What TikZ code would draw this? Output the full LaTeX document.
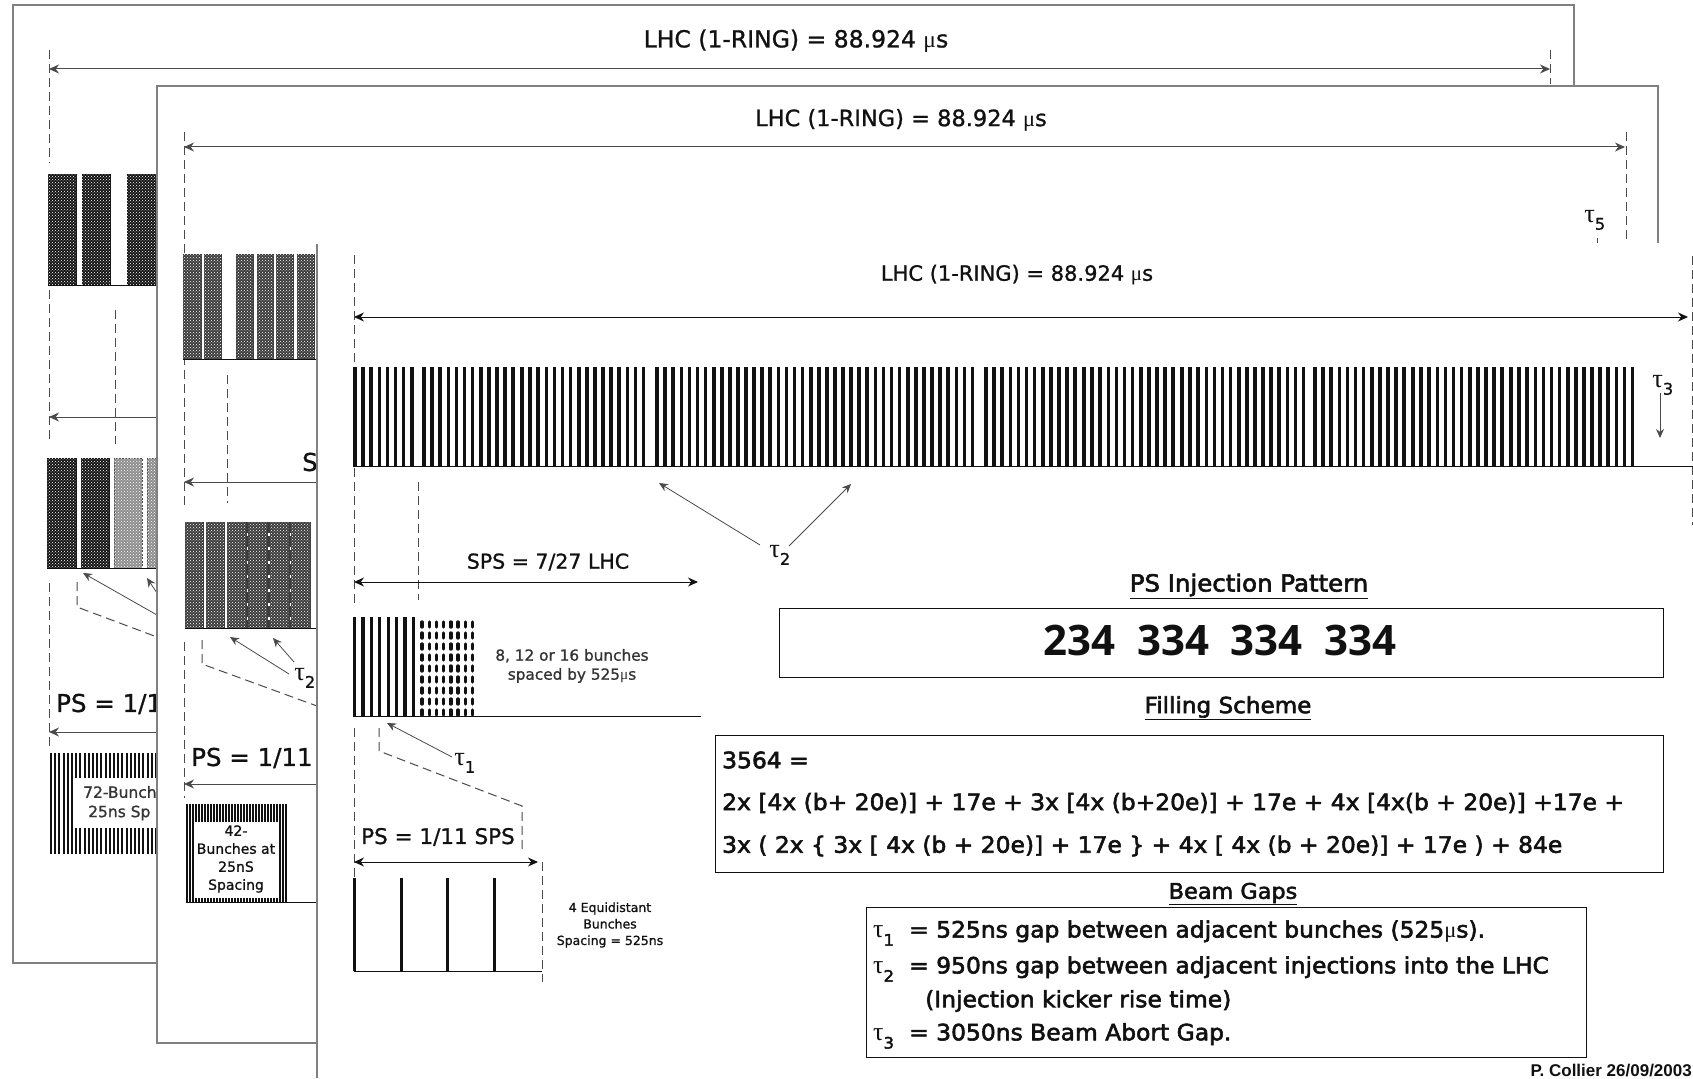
\documentclass[tikz,border=0pt]{standalone}
\usepackage{fontspec}
\usepackage{xcolor}
\usetikzlibrary{arrows.meta,patterns}
\setmainfont[FakeBold=1]{DejaVu Sans}
\newfontfamily\heavyfont[FakeBold=2.5,FakeStretch=1.04]{DejaVu Sans}
\newfontfamily\digitfont[WordSpace=2]{Open Sans}
\newfontfamily\greekfont{Liberation Serif}
\newfontfamily\stampfont{Liberation Sans}
\definecolor{ink}{HTML}{111111}
\definecolor{inkgray}{HTML}{4A4A4A}
\definecolor{framegray}{HTML}{808080}
\definecolor{bardark}{HTML}{151515}
\definecolor{barmid}{HTML}{3C3C3C}
\definecolor{barlight}{HTML}{8E8E8E}
\newcommand{\taugap}[1]{{\greekfont\fontsize{1.15em}{1em}\selectfont τ}\raisebox{-0.3ex}{\textsubscript{#1}}}
\newcommand{\gapline}[1]{\makebox[36pt][l]{\taugap{#1}}}
\newcommand{\micro}{{\greekfont μ}}
\tikzset{
  panel/.style={draw=framegray,fill=white,line width=1.6pt},
  hbar/.style={draw=ink,line width=1pt},
  dashline/.style={draw=inkgray,line width=1pt,dash pattern=on 9pt off 5pt},
  dimarr/.style={{Stealth[length=10pt,width=9pt]}-{Stealth[length=10pt,width=9pt]},
                 line width=1pt,draw=inkgray},
  leftarr/.style={{Stealth[length=10pt,width=9pt]}-,line width=1pt,draw=inkgray},
  tauarr/.style={-{Stealth[length=9pt,width=8pt]},line width=0.8pt,draw=inkgray},
  dotbar/.style={draw=#1,fill=#1,line width=0.7pt,
                 postaction={pattern=crosshatch dots,pattern color=white}},
  gapdash/.style={draw=barmid,line width=2.4pt,dash pattern=on 11pt off 3pt},
  bunch/.style={draw=ink,line width=3.6pt},
  ringlabel/.style={font=\fontsize{23.5}{28}\selectfont,color=ink},
  dimlabel/.style={font=\fontsize{24.5}{28}\selectfont,color=ink},
  tinylabel/.style={font=\fontsize{15.3}{19}\selectfont,color=inkgray!70!black,align=center},
  taulabel/.style={font=\fontsize{23}{26}\selectfont,color=ink},
  headlabel/.style={font=\heavyfont\fontsize{22}{26}\selectfont,color=ink},
  formula/.style={font=\heavyfont\fontsize{22.5}{26}\selectfont,color=ink,anchor=west}
}
\begin{document}
\begin{tikzpicture}[x=1pt,y=-1pt]
    \path[use as bounding box,fill=white] (0,0) rectangle (1693,1078);

    \draw[panel] (13,5) rectangle (1574,963);
    \node[ringlabel] (ringa) at (796,41) {LHC (1-RING) = 88.924 \micro s};
    \coordinate (ringaL) at (49,69);
    \coordinate (ringaR) at (1550,69);
    \draw[dimarr] (ringaL) -- (ringaR);
    \draw[dashline] (49,50) -- (49,163);
    \draw[dashline] (1550,50) -- (1550,84);
    \foreach \xa/\xb in {48/76,82/110,127/157}
      \path[dotbar=bardark] (\xa,174) rectangle (\xb,285);
    \draw[hbar] (48,285) -- (157,285);
    \draw[dashline] (49,290) -- (49,442);
    \draw[dashline] (115,310) -- (115,444);
    \coordinate (spsaL) at (49,417);
    \coordinate (spsaR) at (157,417);
    \draw[leftarr] (spsaL) -- (spsaR);
    \foreach \xa/\xb in {47/76,81/109}
      \path[dotbar=bardark] (\xa,458) rectangle (\xb,568);
    \foreach \xa/\xb in {114/142,147/157}
      \path[dotbar=barlight,draw=inkgray,dash pattern=on 2pt off 1.5pt] (\xa,458) rectangle (\xb,568);
    \draw[hbar] (47,568) -- (157,568);
    \draw[dashline] (77,582) -- (77,607) -- (157,637);
    \coordinate (tauaA) at (83,573);
    \coordinate (tauaB) at (147,578);
    \coordinate (tauaC) at (157,615);
    \coordinate (tauaD) at (157,593);
    \draw[tauarr] (tauaC) -- (tauaA);
    \draw[tauarr] (tauaD) -- (tauaB);
    \draw[dashline] (49,583) -- (49,747);
    \node[dimlabel,anchor=west,inner sep=0pt] (psa) at (56,704) {PS = 1/1};
    \coordinate (psaL) at (49,732);
    \coordinate (psaR) at (157,732);
    \draw[leftarr] (psaL) -- (psaR);
    \foreach \xs in {51,55.2,...,157}
      \draw[ink,line width=2.1pt] (\xs,753) -- (\xs,854);
    \fill[white] (73,778) rectangle (157,828);
    \node[tinylabel,anchor=west,inner sep=0pt,font=\fontsize{15.5}{19}\selectfont] (blocka) at (83,792) {72-Bunch};
    \node[tinylabel,anchor=west,inner sep=0pt,font=\fontsize{15.5}{19}\selectfont] (blockb) at (88,813) {25ns Sp};

    \draw[panel] (157,86) rectangle (1658,1043);
    \node[ringlabel,font=\fontsize{22.5}{28}\selectfont] (ringb) at (901,120) {LHC (1-RING) = 88.924 \micro s};
    \coordinate (ringbL) at (184,147);
    \coordinate (ringbR) at (1625,147);
    \draw[dimarr] (ringbL) -- (ringbR);
    \draw[dashline] (184,132) -- (184,505);
    \draw[dashline] (1626,132) -- (1626,243);
    \node[taulabel] (taufive) at (1595,220) {\taugap{5}};
    \draw[dashline] (1597,238) -- (1597,243);
    \foreach \xa/\xb in {183/201,204/221,236/253,257/273,276/293,297/314}
      \path[dotbar=barmid] (\xa,254) rectangle (\xb,359);
    \draw[hbar] (183,359) -- (317,359);
    \draw[dashline] (227,375) -- (227,503);
    \coordinate (spsbL) at (184,482);
    \coordinate (spsbR) at (317,482);
    \draw[leftarr] (spsbL) -- (spsbR);
    \node[dimlabel,anchor=west,inner sep=0pt] (spsb) at (302,462) {S};
    \foreach \xa/\xb in {185/203,206/224,227/246,248/267,270/289,291/310}
      \path[dotbar=barmid] (\xa,522) rectangle (\xb,628);
    \foreach \xs in {247,268.5,290}
      \draw[gapdash] (\xs,522) -- (\xs,628);
    \draw[hbar] (185,628) -- (317,628);
    \draw[dashline] (202,640) -- (202,664) -- (317,706);
    \node[taulabel] (taub) at (305,678) {\taugap{2}};
    \coordinate (taubA) at (230,637);
    \coordinate (taubB) at (273,638);
    \coordinate (taubC) at (289,674);
    \coordinate (taubD) at (294,662);
    \draw[tauarr] (taubC) -- (taubA);
    \draw[tauarr] (taubD) -- (taubB);
    \draw[dashline] (184,642) -- (184,798);
    \node[dimlabel,anchor=west,inner sep=0pt] (psb) at (191,758) {PS = 1/11};
    \coordinate (psbL) at (184,784);
    \coordinate (psbR) at (317,784);
    \draw[leftarr] (psbL) -- (psbR);
    \foreach \xs in {187,190,...,288}
      \draw[ink,line width=2pt] (\xs,804) -- (\xs,902);
    \fill[white] (195,822) rectangle (279,898);
    \node[tinylabel,font=\fontsize{14}{18}\selectfont,color=ink] (blockc) at (236,859)
      {42-\\Bunches at\\25nS\\Spacing};
    \draw[hbar] (186,902) -- (317,902);

    \fill[white] (317,243) rectangle (1693,1078);
    \draw[framegray,line width=1.6pt] (317,244) -- (317,1078);
    \node[ringlabel,font=\fontsize{21}{24}\selectfont] (ringc) at (1017,275)
      {LHC (1-RING) = 88.924 \micro s};
    \coordinate (ringcL) at (354,317);
    \coordinate (ringcR) at (1688,317);
    \draw[dimarr,draw=ink] (ringcL) -- (ringcR);
    \draw[dashline] (354,255) -- (354,366);
    \draw[dashline] (1692,256) -- (1692,525);
    \foreach \xs/\nb in {355/8,424/12,522/16,657/12,754/12,851/16,986/12,
                         1084/12,1182/16,1315/12,1413/12,1511/16}
      \foreach \ib in {1,...,\nb}
        \draw[bunch] ({\xs+(\ib-1)*8.1},367) -- ({\xs+(\ib-1)*8.1},466);
    \draw[hbar] (353,466) -- (1693,466);
    \node[taulabel] (tauthree) at (1663,385) {\taugap{3}};
    \coordinate (tauthreeA) at (1660,393);
    \coordinate (tauthreeB) at (1660,438);
    \draw[tauarr] (tauthreeA) -- (tauthreeB);
    \draw[dashline] (354,468) -- (354,603);
    \draw[dashline] (418,482) -- (418,600);
    \node[taulabel] (tauc) at (780,555) {\taugap{2}};
    \coordinate (taucA) at (659,483);
    \coordinate (taucB) at (851,484);
    \coordinate (taucC) at (760,545);
    \coordinate (taucD) at (789,546);
    \draw[tauarr] (taucC) -- (taucA);
    \draw[tauarr] (taucD) -- (taucB);
    \node[dimlabel,font=\fontsize{20.5}{24}\selectfont] (spsc) at (548,562) {SPS = 7/27 LHC};
    \coordinate (spscL) at (354,582);
    \coordinate (spscR) at (698,582);
    \draw[dimarr,draw=ink] (spscL) -- (spscR);
    \foreach \ib in {0,...,7}
      \draw[ink,line width=3.2pt] ({354.5+\ib*8.4},617) -- ({354.5+\ib*8.4},716);
    \foreach \ib in {0,...,7}
      \draw[ink,line width=3.4pt,line cap=round,dash pattern=on 5pt off 6pt] ({422+\ib*7.2},622) -- ({422+\ib*7.2},716);
    \draw[hbar] (353,716) -- (701,716);
    \node[tinylabel] (bunchspec) at (572,666)
      {8, 12 or 16 bunches\\spaced by 525\micro s};
    \draw[dashline] (354,728) -- (354,877);
    \draw[dashline] (379,728) -- (379,751) -- (522,806) -- (522,852);
    \node[taulabel] (taua) at (465,763) {\taugap{1}};
    \coordinate (tauoneA) at (387,723);
    \coordinate (tauoneB) at (452,757);
    \draw[tauarr] (tauoneB) -- (tauoneA);
    \node[dimlabel,font=\fontsize{21.5}{24}\selectfont] (psc) at (438,837) {PS = 1/11 SPS};
    \coordinate (pscL) at (354,862);
    \coordinate (pscR) at (538,862);
    \draw[dimarr,draw=ink] (pscL) -- (pscR);
    \draw[dashline] (542,862) -- (542,982);
    \foreach \xs in {354,401,447,494}
      \draw[ink,line width=3pt] (\xs,878) -- (\xs,971);
    \draw[hbar] (354,971) -- (542,971);
    \node[tinylabel,font=\fontsize{12.5}{16.5}\selectfont,color=ink] (fourbunch) at (610,925)
      {4 Equidistant\\Bunches\\Spacing = 525ns};

    \node[headlabel,font=\heavyfont\fontsize{23.5}{26}\selectfont] (pshead) at (1249,586) {\underline{PS Injection Pattern}};
    \draw[line width=1pt,draw=ink] (779,608) rectangle (1663,677);
    \node[font=\digitfont\fontsize{42}{48}\selectfont\bfseries,color=ink] (pspattern) at (1220,640)
      {234 334 334 334};
    \node[headlabel,font=\heavyfont\fontsize{22.2}{26}\selectfont] (fillhead) at (1228,708) {\underline{Filling Scheme}};
    \draw[line width=1pt,draw=ink] (715,735) rectangle (1663,872);
    \node[formula,inner sep=0pt] (fill0) at (722,760) {3564 =};
    \node[formula,inner sep=0pt] (fill1) at (722,803)
      {2x [4x (b+ 20e)] + 17e + 3x [4x (b+20e)] + 17e + 4x [4x(b + 20e)] +17e +};
    \node[formula,inner sep=0pt] (fill2) at (722,846)
      {3x ( 2x \{ 3x [ 4x (b + 20e)] + 17e \} + 4x [ 4x (b + 20e)] + 17e ) + 84e};
    \node[headlabel,font=\heavyfont\fontsize{21.5}{26}\selectfont] (gaphead) at (1233,894) {\underline{Beam Gaps}};
    \draw[line width=1pt,draw=ink] (866,907) rectangle (1586,1057);
    \node[formula,inner sep=0pt] (gap1) at (873,933)
      {\gapline{1}= 525ns gap between adjacent bunches (525\micro s).};
    \node[formula,inner sep=0pt] (gap2) at (873,969)
      {\gapline{2}= 950ns gap between adjacent injections into the LHC};
    \node[formula,inner sep=0pt] (gap2b) at (925,1001) {(Injection kicker rise time)};
    \node[formula,inner sep=0pt] (gap3) at (873,1036)
      {\gapline{3}= 3050ns Beam Abort Gap.};
    \node[anchor=east,inner sep=0pt,font=\stampfont\fontsize{17}{19}\selectfont\bfseries,color=ink] (stamp)
      at (1692,1070) {P. Collier 26/09/2003};
  \end{tikzpicture}
\end{document}
